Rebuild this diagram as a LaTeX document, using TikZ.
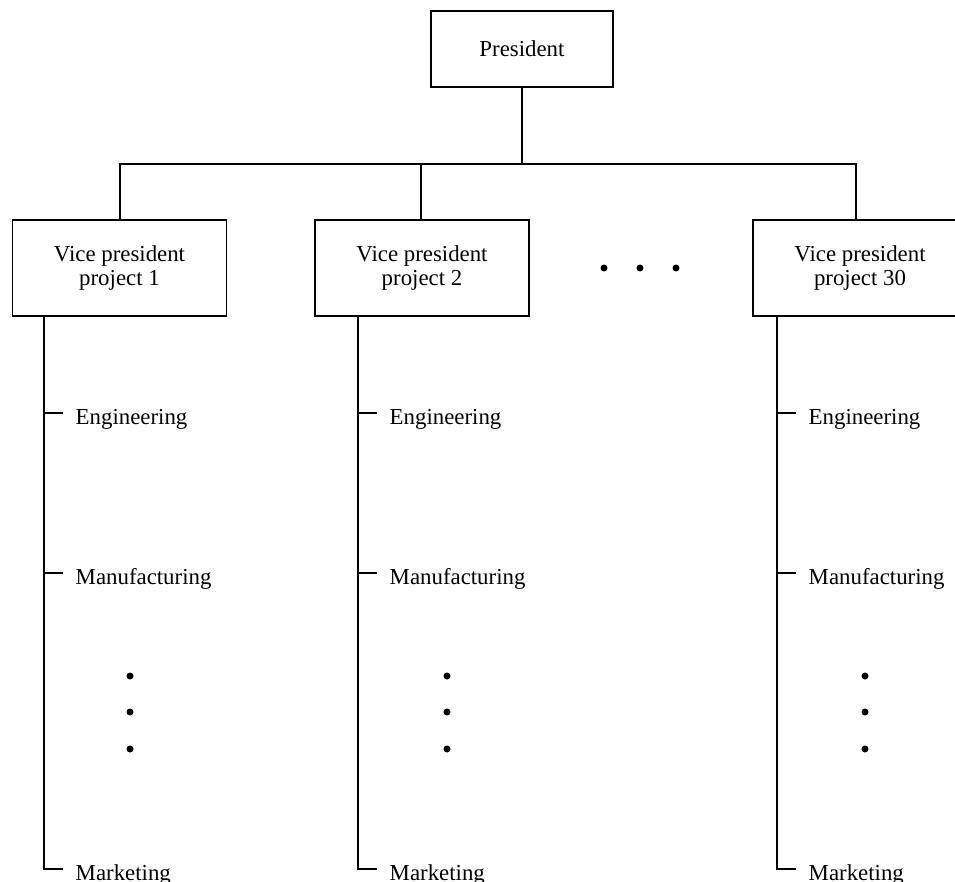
\documentclass[tikz,border=0pt]{standalone}
\usepackage{fontspec}
\setmainfont{Liberation Serif}
\usetikzlibrary{positioning,calc}

\newcommand{\orgfont}{\fontsize{13pt}{13pt}\selectfont}
\newcommand{\vpfont}{\fontsize{13pt}{14pt}\selectfont}
\tikzset{
  box/.style={draw, align=center, inner sep=0pt, font=\orgfont},
  vpbox/.style={box, minimum width=4.28cm, minimum height=1.92cm, font=\vpfont},
  dept/.style={anchor=west, inner xsep=0.24cm, inner ysep=0pt, text height=13.6pt, text depth=0pt, font=\orgfont},
  dot/.style={fill=black},
}

\begin{document}
\begin{tikzpicture}[line width=0.8pt]
  \clip (0,0) rectangle (19.1,-17.64);

  % President
  \node[box, minimum width=3.64cm, minimum height=1.52cm] (pres) at (10.44,-0.98) {President};
  \coordinate (bus) at (10.44,-3.28);

  % Vice presidents
  \node[vpbox] (vp1) at (2.39,-5.36) {Vice president\\project 1};
  \node[vpbox] (vp2) at (8.44,-5.36) {Vice president\\project 2};
  \node[vpbox] (vp30) at (17.2,-5.36) {Vice president\\project 30};

  \coordinate (c1) at (2.40,-3.28);
  \coordinate (c2) at (8.42,-3.28);
  \coordinate (c30) at (17.12,-3.28);

  \draw (pres) -- (bus);
  \draw (c1 |- vp1.north) -- (c1) -- (c30) -- (c30 |- vp30.north);
  \draw (c2) -- (c2 |- vp2.north);

  % more projects
  \foreach \x in {12.08,12.80,13.52}
    \fill[dot] (\x,-5.36) circle (0.07);

  % Departments under each vice president
  \foreach \v/\s/\d in {1/0.88/2.60, 2/7.16/8.94, 30/15.54/17.30} {
    \coordinate (top\v) at (\s,0);
    \node[dept] (eng\v) at (\s+0.38,-8.26) {Engineering};
    \node[dept] (man\v) at (\s+0.38,-11.46) {Manufacturing};
    \node[dept] (mkt\v) at (\s+0.38,-17.38) {Marketing};

    \draw (vp\v.south -| top\v) -- (mkt\v.west -| top\v) -- (mkt\v.west);
    \draw (eng\v.west -| top\v) -- (eng\v.west);
    \draw (man\v.west -| top\v) -- (man\v.west);

    \foreach \y in {-13.52,-14.24,-14.98}
      \fill[dot] (\d,\y) circle (0.07);
  }
\end{tikzpicture}
\end{document}
